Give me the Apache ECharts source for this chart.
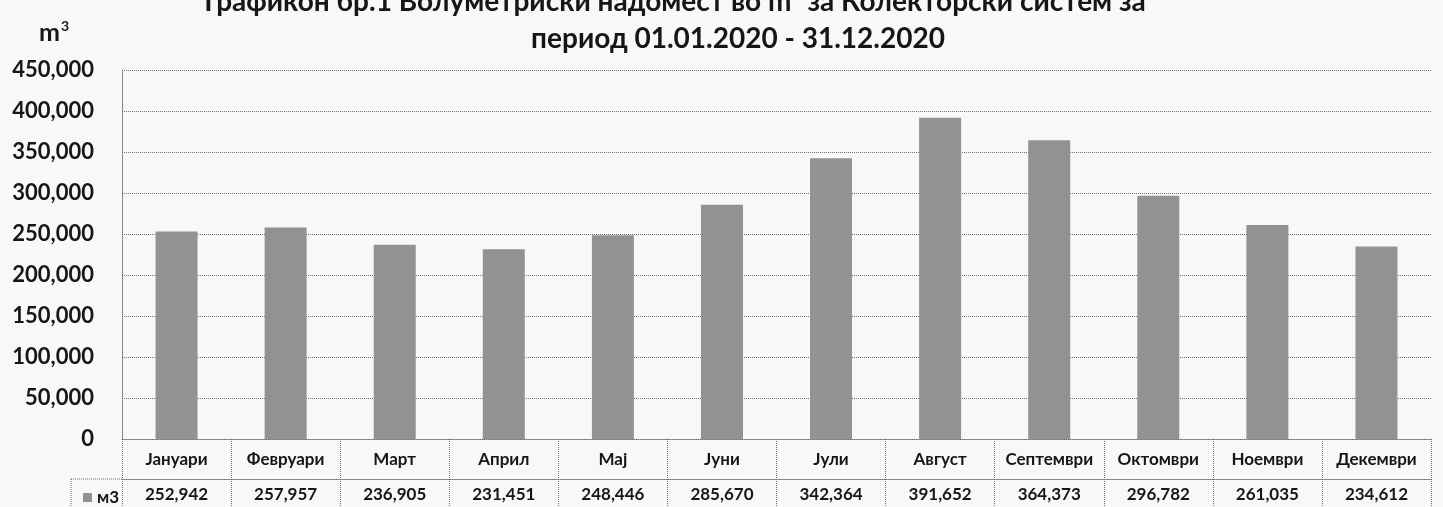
<!DOCTYPE html>
<html>
<head>
<meta charset="utf-8">
<script src="https://cdn.jsdelivr.net/npm/echarts@6/dist/echarts.min.js"></script>
<style>
html,body{margin:0;padding:0;background:#f7f8fa;}
#chart{width:1443px;height:507px;}
</style>
</head>
<body>
<div id="chart"></div>
<script>
const categories = ['Јануари','Февруари','Март','Април','Мај','Јуни','Јули','Август','Септември','Октомври','Ноември','Декември'];
const values = [252942, 257957, 236905, 231451, 248446, 285670, 342364, 391652, 364373, 296782, 261035, 234612];
const seriesName = 'м3';
const titleLine1 = 'Графикон бр.1 Волуметриски надомест во m³ за Колекторски систем за';
const titleLine2 = 'период 01.01.2020 - 31.12.2020';
const yMin = 0, yMax = 450000, yStep = 50000;

const fmt = v => Number(v).toLocaleString('en-US');
const FONT = 'Lato';
const TXT = '#161616';
const LINE = {type:'dotted', color:'#6e6e6e', width:1};

const chart = echarts.init(document.getElementById('chart'));
chart.setOption({
  backgroundColor:'#f7f8fa',
  animation:false,
  grid:{left:122, right:12, top:70, bottom:68, containLabel:false},
  legend:{
    data:[seriesName], left:78, top:484, icon:'rect', itemWidth:9, itemHeight:9, itemGap:4,
    textStyle:{fontFamily:FONT, fontWeight:'bold', fontSize:17, color:TXT}
  },
  xAxis:[{
    type:'category', data:categories, position:'bottom',
    axisLine:{show:true, lineStyle:LINE},
    axisTick:{show:true, interval:0, length:68, lineStyle:LINE},
    axisLabel:{interval:0, fontFamily:FONT, fontWeight:'bold', fontSize:17, color:TXT, margin:12}
  },{
    type:'category', data:categories, position:'bottom', offset:40,
    axisLine:{show:true, lineStyle:LINE},
    axisTick:{show:false},
    axisLabel:{interval:0, fontFamily:FONT, fontWeight:'bold', fontSize:17, color:TXT, margin:7,
      formatter:(v, i) => fmt(values[i])}
  }],
  yAxis:{
    type:'value', min:yMin, max:yMax, interval:yStep,
    axisLine:{show:true, lineStyle:LINE},
    axisTick:{show:false},
    splitLine:{show:true, lineStyle:LINE},
    axisLabel:{fontFamily:FONT, fontWeight:'bold', fontSize:22, color:TXT, margin:28, formatter:v => fmt(v)}
  },
  series:[{
    name:seriesName, type:'bar', data:values, barWidth:42, xAxisIndex:0,
    itemStyle:{color:'#929292'}
  }],
  graphic:[
    {type:'text', x:675, y:2, style:{text:titleLine1, align:'center', verticalAlign:'middle', fontFamily:FONT, fontWeight:'bold', fontSize:28, fill:TXT}},
    {type:'text', x:738, y:39, style:{text:titleLine2, align:'center', verticalAlign:'middle', fontFamily:FONT, fontWeight:'bold', fontSize:28, fill:TXT}},
    {type:'text', x:39, y:32, style:{text:'{m|m}{s|3}', verticalAlign:'middle', rich:{
      m:{fontFamily:FONT, fontWeight:'bold', fontSize:25, fill:TXT, verticalAlign:'bottom'},
      s:{fontFamily:FONT, fontWeight:'bold', fontSize:14, fill:TXT, verticalAlign:'top', padding:[0,0,12,1]}
    }}},
    {type:'line', shape:{x1:71, y1:479, x2:122, y2:479}, style:{stroke:'#6e6e6e', lineDash:[1,1], lineWidth:1}},
    {type:'line', shape:{x1:71, y1:479, x2:71, y2:507}, style:{stroke:'#6e6e6e', lineDash:[1,1], lineWidth:1}}
  ]
});
</script>
</body>
</html>
